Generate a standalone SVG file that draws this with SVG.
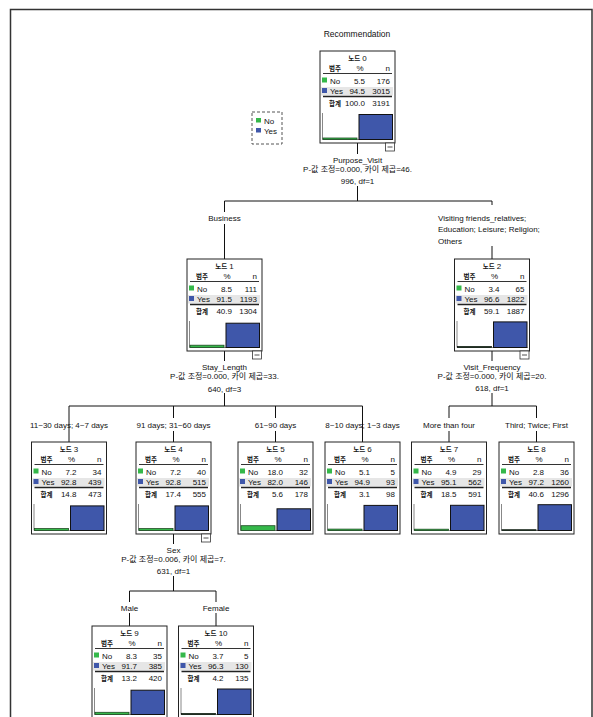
<svg xmlns="http://www.w3.org/2000/svg" width="593" height="717" viewBox="0 0 593 717">
<style>
text{font-family:"Liberation Sans","Noto Sans CJK KR",Arial,sans-serif;font-size:8px;fill:#111}
.k{font-size:6.5px;font-weight:bold}
.c{text-anchor:middle}
.e{text-anchor:end}
.box{fill:#fff;stroke:#222;stroke-width:1}
.hl{stroke:#333;stroke-width:1}
.hl2{stroke:#222;stroke-width:1.6}
.hi{fill:#e6e6e6}
.no{fill:#35b84a}
.yes{fill:#3f57aa}
.ax{fill:none;stroke:#888;stroke-width:1}
.nb{fill:#35b84a;stroke:#1d4a22;stroke-width:0.8}
.yb{fill:#3f57aa;stroke:#111;stroke-width:1}
.mn{fill:#fff;stroke:#333;stroke-width:0.8}
.cn{fill:none;stroke:#111;stroke-width:1}
</style>
<defs>
<g id="tbl">
<text class="c k" x="15" y="20">범주</text>
<text class="c" x="40" y="20">%</text>
<text class="e" x="70" y="20">n</text>
<line class="hl" x1="3" y1="22.5" x2="72" y2="22.5"/>
<rect class="no" x="2" y="26.5" width="5" height="5"/>
<rect class="hi" x="1" y="36" width="72" height="8.5"/>
<rect class="yes" x="2" y="37" width="5" height="5"/>
<line class="hl2" x1="3" y1="45.5" x2="72" y2="45.5"/>
<text class="c k" x="15" y="54.5">합계</text>
<path class="ax" d="M2.5,62 V88.5 H73"/>
</g>
<g id="minus">
<rect class="mn" x="65.5" y="92" width="9" height="8"/>
<line stroke="#222" stroke-width="0.8" x1="67.5" y1="96" x2="72.5" y2="96"/>
</g>
</defs>
<rect x="10.5" y="9.5" width="581.5" height="720" fill="none" stroke="#333" stroke-width="1.5"/>
<text class="c" x="357" y="37" style="font-size:8.5px">Recommendation</text>
<g id="legend">
<rect x="252" y="112" width="30" height="32" fill="#fff" stroke="#555" stroke-dasharray="3,2"/>
<rect class="no" x="256" y="118" width="5" height="4.5"/>
<text x="264" y="123.5">No</text>
<rect class="yes" x="256" y="128" width="5" height="4.5"/>
<text x="264" y="134">Yes</text>
</g>
<g id="connectors">
<path class="cn" d="M357.5,143 V154 M357.5,186 V201 M224.5,201 H492 M224.5,201 V212 M224.5,224 V259 M492,201 V205 M492,246 V259"/>
<path class="cn" d="M224.5,351 V361 M224.5,393 V406 M69,406 H362.5 M69,406 V442 M173.5,406 V418 M173.5,431 V442 M275.5,406 V418 M275.5,431 V442 M362.5,406 V442"/>
<path class="cn" d="M492,351 V361 M492,393 V406 M449,406 H536.5 M449,406 V418 M449,431 V442 M536.5,406 V418 M536.5,431 V442"/>
<path class="cn" d="M173.5,534 V544 M173.5,576 V591 M129.5,591 H216 M129.5,591 V602 M129.5,613 V626 M216,591 V602 M216,613 V626"/>
<text class="c" x="357.5" y="163">Purpose_Visit</text>
<text class="c" x="357.5" y="172">P-값 조정=0.000, 카이 제곱=46.</text>
<text class="c" x="357.5" y="184">996, df=1</text>
<text class="c" x="224.5" y="221">Business</text>
<text x="438" y="221">Visiting friends_relatives;</text>
<text x="438" y="232">Education; Leisure; Religion;</text>
<text x="438" y="244">Others</text>
<text class="c" x="224.5" y="370">Stay_Length</text>
<text class="c" x="224.5" y="379">P-값 조정=0.000, 카이 제곱=33.</text>
<text class="c" x="224.5" y="392">640, df=3</text>
<text class="c" x="492" y="370">Visit_Frequency</text>
<text class="c" x="492" y="379">P-값 조정=0.000, 카이 제곱=20.</text>
<text class="c" x="492" y="391">618, df=1</text>
<text class="c" x="69" y="428">11~30 days; 4~7 days</text>
<text class="c" x="173.5" y="428">91 days; 31~60 days</text>
<text class="c" x="275.5" y="428">61~90 days</text>
<text class="c" x="362.5" y="428">8~10 days; 1~3 days</text>
<text class="c" x="449" y="428">More than four</text>
<text class="c" x="536.5" y="428">Third; Twice; First</text>
<text class="c" x="173.5" y="553">Sex</text>
<text class="c" x="173.5" y="562">P-값 조정=0.006, 카이 제곱=7.</text>
<text class="c" x="173.5" y="574">631, df=1</text>
<text class="c" x="129.5" y="611">Male</text>
<text class="c" x="216" y="611">Female</text>
</g>
<g id="node0" transform="translate(320,51)">
<rect class="box" width="75" height="92"/><use href="#tbl"/>
<text class="c" x="37.5" y="10"><tspan class="k">노드</tspan> 0</text>
<text x="10" y="32.5">No</text><text class="e" x="45" y="32.5">5.5</text><text class="e" x="70" y="32.5">176</text>
<text x="10" y="42.5">Yes</text><text class="e" x="45" y="42.5">94.5</text><text class="e" x="70" y="42.5">3015</text>
<text class="e" x="45" y="54.5">100.0</text><text class="e" x="70" y="54.5">3191</text>
<rect class="nb" x="3" y="87" width="34" height="1.5"/><rect class="yb" x="39" y="63.5" width="33.5" height="25"/>
<use href="#minus"/>
</g>
<g id="node1" transform="translate(187,259)">
<rect class="box" width="75" height="92"/><use href="#tbl"/>
<text class="c" x="37.5" y="10"><tspan class="k">노드</tspan> 1</text>
<text x="10" y="32.5">No</text><text class="e" x="45" y="32.5">8.5</text><text class="e" x="70" y="32.5">111</text>
<text x="10" y="42.5">Yes</text><text class="e" x="45" y="42.5">91.5</text><text class="e" x="70" y="42.5">1193</text>
<text class="e" x="45" y="54.5">40.9</text><text class="e" x="70" y="54.5">1304</text>
<rect class="nb" x="3" y="86.2" width="34" height="2.3"/><rect class="yb" x="39" y="64.2" width="33.5" height="24.3"/>
<use href="#minus"/>
</g>
<g id="node2" transform="translate(454.5,259)">
<rect class="box" width="75" height="92"/><use href="#tbl"/>
<text class="c" x="37.5" y="10"><tspan class="k">노드</tspan> 2</text>
<text x="10" y="32.5">No</text><text class="e" x="45" y="32.5">3.4</text><text class="e" x="70" y="32.5">65</text>
<text x="10" y="42.5">Yes</text><text class="e" x="45" y="42.5">96.6</text><text class="e" x="70" y="42.5">1822</text>
<text class="e" x="45" y="54.5">59.1</text><text class="e" x="70" y="54.5">1887</text>
<rect class="nb" x="3" y="87.5" width="34" height="1" style="stroke:#111"/><rect class="yb" x="39" y="62.9" width="33.5" height="25.6"/>
<use href="#minus"/>
</g>
<g id="node3" transform="translate(31.5,442)">
<rect class="box" width="75" height="92"/><use href="#tbl"/>
<text class="c" x="37.5" y="10"><tspan class="k">노드</tspan> 3</text>
<text x="10" y="32.5">No</text><text class="e" x="45" y="32.5">7.2</text><text class="e" x="70" y="32.5">34</text>
<text x="10" y="42.5">Yes</text><text class="e" x="45" y="42.5">92.8</text><text class="e" x="70" y="42.5">439</text>
<text class="e" x="45" y="54.5">14.8</text><text class="e" x="70" y="54.5">473</text>
<rect class="nb" x="3" y="86.6" width="34" height="1.9"/><rect class="yb" x="39" y="63.9" width="33.5" height="24.6"/>
</g>
<g id="node4" transform="translate(136,442)">
<rect class="box" width="75" height="92"/><use href="#tbl"/>
<text class="c" x="37.5" y="10"><tspan class="k">노드</tspan> 4</text>
<text x="10" y="32.5">No</text><text class="e" x="45" y="32.5">7.2</text><text class="e" x="70" y="32.5">40</text>
<text x="10" y="42.5">Yes</text><text class="e" x="45" y="42.5">92.8</text><text class="e" x="70" y="42.5">515</text>
<text class="e" x="45" y="54.5">17.4</text><text class="e" x="70" y="54.5">555</text>
<rect class="nb" x="3" y="86.6" width="34" height="1.9"/><rect class="yb" x="39" y="63.9" width="33.5" height="24.6"/>
<use href="#minus"/>
</g>
<g id="node5" transform="translate(238,442)">
<rect class="box" width="75" height="92"/><use href="#tbl"/>
<text class="c" x="37.5" y="10"><tspan class="k">노드</tspan> 5</text>
<text x="10" y="32.5">No</text><text class="e" x="45" y="32.5">18.0</text><text class="e" x="70" y="32.5">32</text>
<text x="10" y="42.5">Yes</text><text class="e" x="45" y="42.5">82.0</text><text class="e" x="70" y="42.5">146</text>
<text class="e" x="45" y="54.5">5.6</text><text class="e" x="70" y="54.5">178</text>
<rect class="nb" x="3" y="83.7" width="34" height="4.8"/><rect class="yb" x="39" y="66.8" width="33.5" height="21.7"/>
</g>
<g id="node6" transform="translate(325,442)">
<rect class="box" width="75" height="92"/><use href="#tbl"/>
<text class="c" x="37.5" y="10"><tspan class="k">노드</tspan> 6</text>
<text x="10" y="32.5">No</text><text class="e" x="45" y="32.5">5.1</text><text class="e" x="70" y="32.5">5</text>
<text x="10" y="42.5">Yes</text><text class="e" x="45" y="42.5">94.9</text><text class="e" x="70" y="42.5">93</text>
<text class="e" x="45" y="54.5">3.1</text><text class="e" x="70" y="54.5">98</text>
<rect class="nb" x="3" y="87.1" width="34" height="1.4"/><rect class="yb" x="39" y="63.4" width="33.5" height="25.1"/>
</g>
<g id="node7" transform="translate(411.5,442)">
<rect class="box" width="75" height="92"/><use href="#tbl"/>
<text class="c" x="37.5" y="10"><tspan class="k">노드</tspan> 7</text>
<text x="10" y="32.5">No</text><text class="e" x="45" y="32.5">4.9</text><text class="e" x="70" y="32.5">29</text>
<text x="10" y="42.5">Yes</text><text class="e" x="45" y="42.5">95.1</text><text class="e" x="70" y="42.5">562</text>
<text class="e" x="45" y="54.5">18.5</text><text class="e" x="70" y="54.5">591</text>
<rect class="nb" x="3" y="87.2" width="34" height="1.3"/><rect class="yb" x="39" y="63.3" width="33.5" height="25.2"/>
</g>
<g id="node8" transform="translate(499,442)">
<rect class="box" width="75" height="92"/><use href="#tbl"/>
<text class="c" x="37.5" y="10"><tspan class="k">노드</tspan> 8</text>
<text x="10" y="32.5">No</text><text class="e" x="45" y="32.5">2.8</text><text class="e" x="70" y="32.5">36</text>
<text x="10" y="42.5">Yes</text><text class="e" x="45" y="42.5">97.2</text><text class="e" x="70" y="42.5">1260</text>
<text class="e" x="45" y="54.5">40.6</text><text class="e" x="70" y="54.5">1296</text>
<rect class="nb" x="3" y="87.7" width="34" height="0.8" style="stroke:#111"/><rect class="yb" x="39" y="62.7" width="33.5" height="25.8"/>
</g>
<g id="node9" transform="translate(92,626)">
<rect class="box" width="75" height="92"/><use href="#tbl"/>
<text class="c" x="37.5" y="10"><tspan class="k">노드</tspan> 9</text>
<text x="10" y="32.5">No</text><text class="e" x="45" y="32.5">8.3</text><text class="e" x="70" y="32.5">35</text>
<text x="10" y="42.5">Yes</text><text class="e" x="45" y="42.5">91.7</text><text class="e" x="70" y="42.5">385</text>
<text class="e" x="45" y="54.5">13.2</text><text class="e" x="70" y="54.5">420</text>
<rect class="nb" x="3" y="86.3" width="34" height="2.2"/><rect class="yb" x="39" y="64.2" width="33.5" height="24.3"/>
</g>
<g id="node10" transform="translate(178.5,626)">
<rect class="box" width="75" height="92"/><use href="#tbl"/>
<text class="c" x="37.5" y="10"><tspan class="k">노드</tspan> 10</text>
<text x="10" y="32.5">No</text><text class="e" x="45" y="32.5">3.7</text><text class="e" x="70" y="32.5">5</text>
<text x="10" y="42.5">Yes</text><text class="e" x="45" y="42.5">96.3</text><text class="e" x="70" y="42.5">130</text>
<text class="e" x="45" y="54.5">4.2</text><text class="e" x="70" y="54.5">135</text>
<rect class="nb" x="3" y="87.5" width="34" height="1" style="stroke:#111"/><rect class="yb" x="39" y="63" width="33.5" height="25.5"/>
</g>
</svg>
